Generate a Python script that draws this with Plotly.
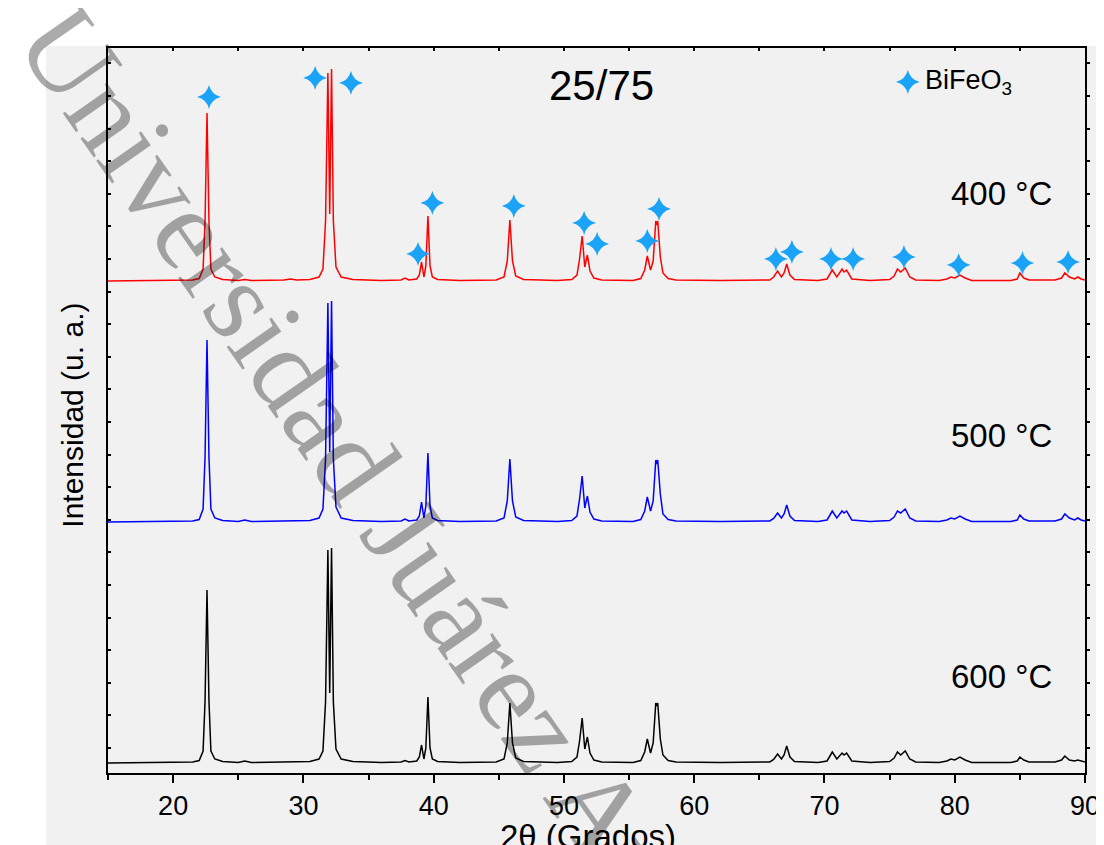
import plotly.graph_objects as go

# 2-theta sample positions (degrees)
two_theta = [15.0, 20.0, 21.5, 22.0, 22.3, 22.45, 22.6, 22.75, 22.9, 23.2, 23.8, 25.0, 25.5, 26.0,
             28.5, 29.0, 29.5, 30.5, 31.2, 31.5, 31.7, 31.88, 32.02, 32.16, 32.3, 32.5, 32.9, 33.8,
             36.0, 37.5, 37.8, 38.1, 38.7, 38.9, 39.07, 39.25, 39.4, 39.56, 39.72, 39.9, 40.3, 42.0,
             44.8, 45.4, 45.65, 45.85, 46.05, 46.3, 46.9, 49.5, 50.6, 51.0, 51.2, 51.4, 51.6, 51.8,
             52.0, 52.3, 52.9, 55.3, 55.9, 56.2, 56.4, 56.65, 56.85, 57.05, 57.13, 57.2, 57.4, 57.6,
             58.0, 58.6, 62.0, 65.8, 66.1, 66.4, 66.7, 66.9, 67.1, 67.35, 67.7, 69.5, 70.2, 70.6,
             70.95, 71.35, 71.5, 71.7, 72.1, 73.5, 75.0, 75.35, 75.6, 75.85, 76.2, 76.55, 77.0, 78.8,
             79.4, 79.7, 80.0, 80.4, 80.8, 81.3, 84.3, 84.8, 85.0, 85.3, 85.7, 87.7, 88.2, 88.45,
             88.8, 89.2, 89.45, 89.7, 90.0]

# intensities (a.u.) above each pattern's own baseline
int_400 = [0, 0.5, 1, 2.5, 12, 60, 168, 60, 12, 4, 1.5, 0.5, 1.5, 0.5,
           1, 2, 1, 1.5, 4, 12, 60, 208, 67, 212, 60, 14, 4, 1.5,
           0.5, 1, 3, 1, 2, 6, 19, 4, 15, 65, 15, 4, 1.5, 0.5,
           1, 4, 20, 61, 20, 5, 1.5, 0.5, 1.5, 6, 22, 45, 14, 26,
           10, 3, 1, 0.5, 2.5, 11, 25, 11, 20, 60, 56, 60, 24, 8,
           2.5, 1, 0.5, 1, 4, 10, 4, 8, 17, 6, 1.5, 0.5, 2, 11,
           4, 12, 9, 11, 2, 0.5, 1.5, 5, 12, 9, 13, 4, 1, 0.5,
           2, 4, 3, 6, 3, 0.5, 0.5, 2, 8, 3, 1, 1, 3, 8,
           4, 2, 4, 2, 1]

int_500 = [0, 0.5, 1, 2.5, 13, 65, 182, 65, 13, 4, 1.5, 0.5, 2, 0.5,
           1, 1.5, 1, 1.5, 4, 13, 63, 219, 70, 221, 63, 15, 4, 1.5,
           0.5, 1, 3, 1, 2, 6, 20, 4, 16, 69, 16, 4, 1.5, 0.5,
           1, 4, 21, 63, 21, 5, 1.5, 0.5, 1.5, 6, 23, 46, 14, 26,
           10, 3, 1, 0.5, 2.5, 11, 25, 11, 21, 62, 58, 62, 28, 8,
           2.5, 1, 0.5, 1, 3.5, 9, 4, 8, 17, 6, 1.5, 0.5, 2, 11,
           4, 11, 9, 11, 2, 0.5, 1.5, 5, 11, 9, 13, 4, 1, 0.5,
           2, 4, 3, 6, 3, 0.5, 0.5, 2, 7, 3, 1, 1, 3, 8,
           4, 2, 4, 2, 1]

int_600 = [0, 0.5, 1, 2.5, 12, 62, 173, 62, 12, 4, 1.5, 0.5, 2, 0.5,
           1, 1.5, 1, 1.5, 4, 12, 61, 213, 70, 215, 61, 14, 4, 1.5,
           0.5, 1, 2.5, 1, 2, 6, 18, 4, 15, 66, 15, 4, 1.5, 0.5,
           1, 4, 20, 60, 20, 5, 1.5, 0.5, 1.5, 6, 22, 45, 14, 26,
           10, 3, 1, 0.5, 2.5, 11, 24, 10, 20, 60, 57, 60, 24, 8,
           2.5, 1, 0.5, 1, 3.5, 9, 4, 8, 17, 6, 1.5, 0.5, 2, 11,
           4, 10, 8, 10, 2, 0.5, 1.5, 5, 11, 8, 12, 4, 1, 0.5,
           2, 4, 3, 6, 3, 0.5, 0.5, 2, 6, 3, 1, 1, 3, 7,
           3, 2, 3, 2, 1]

series_names = ["400 °C", "500 °C", "600 °C"]
series_offsets = [492, 251, 10]
series_colors = ["#ff0000", "#0000ff", "#000000"]
series_values = [int_400, int_500, int_600]

# BiFeO3 reflection markers
star_x = [22.75, 30.9, 33.65, 38.8, 39.9, 46.15, 51.55, 52.55, 56.4, 57.3,
          66.27, 67.5, 70.5, 72.2, 76.1, 80.3, 85.2, 88.7]
star_y = [676, 695, 690, 519, 570, 567, 550, 529, 532, 564,
          514, 521, 514, 514, 516, 508, 510, 511]

x_ticks = [20, 30, 40, 50, 60, 70, 80, 90]

FONT = "Arial, Liberation Sans, sans-serif"
STAR = "#1AA3F7"

fig = go.Figure()
for name, off, col, vals in zip(series_names, series_offsets, series_colors, series_values):
    fig.add_trace(go.Scatter(x=two_theta, y=[v + off for v in vals], mode="lines",
                             line=dict(color=col, width=1.5), name=name, showlegend=False))

fig.add_trace(go.Scatter(x=star_x, y=star_y, mode="markers",
                         marker=dict(symbol="star-diamond", size=17, color=STAR, line=dict(width=0)),
                         showlegend=False))
# legend key star
fig.add_trace(go.Scatter(x=[76.4], y=[691], mode="markers",
                         marker=dict(symbol="star-diamond", size=17, color=STAR, line=dict(width=0)),
                         showlegend=False))
# helper trace for mirrored axes
fig.add_trace(go.Scatter(x=[15], y=[0], xaxis="x2", yaxis="y2", mode="markers",
                         marker=dict(opacity=0), showlegend=False, hoverinfo="skip"))

annotations = [
    dict(text="25/75", x=52.9, y=688, xref="x", yref="y", showarrow=False,
         xanchor="center", yanchor="middle", font=dict(family=FONT, size=42, color="black")),
    dict(text="BiFeO<sub>3</sub>", x=77.6, y=691, xref="x", yref="y", showarrow=False,
         xanchor="left", yanchor="middle", font=dict(family=FONT, size=27, color="black")),
    dict(text="400 °C", x=87.6, y=580, xref="x", yref="y", showarrow=False, xanchor="right",
         yanchor="middle", font=dict(family=FONT, size=33, color="black")),
    dict(text="500 °C", x=87.6, y=338, xref="x", yref="y", showarrow=False, xanchor="right",
         yanchor="middle", font=dict(family=FONT, size=33, color="black")),
    dict(text="600 °C", x=87.6, y=97, xref="x", yref="y", showarrow=False, xanchor="right",
         yanchor="middle", font=dict(family=FONT, size=33, color="black")),
    dict(text="Intensidad (u. a.)", x=-0.036, y=0.494, xref="paper", yref="paper", showarrow=False,
         xanchor="center", yanchor="middle", textangle=-90,
         font=dict(family=FONT, size=30, color="black")),
    dict(text="2θ (Grados)", x=0.491, y=-0.087, xref="paper", yref="paper", showarrow=False,
         xanchor="center", yanchor="middle", font=dict(family=FONT, size=33, color="black")),
    dict(text="Universidad Juárez Autónoma de Tabasco", x=0.512, y=-0.07, xref="paper", yref="paper",
         showarrow=False, textangle=55, xanchor="center", yanchor="middle",
         font=dict(family="Liberation Serif, Times New Roman, serif", size=117, color="rgba(0,0,0,0.33)")),
]

axis_common = dict(automargin=False, showgrid=False, zeroline=False, showline=True,
                   linewidth=2, linecolor="black", tickcolor="black")

# the page body adds an 8 px offset, so the figure is 8 px smaller and margins shifted
fig.update_layout(
    width=1096, height=837,
    margin=dict(l=100, r=19, t=40, b=72, pad=0, autoexpand=False),
    paper_bgcolor="white", plot_bgcolor="#f1f1f1",
    showlegend=False,
    annotations=annotations,
    shapes=[dict(type="rect", xref="paper", yref="paper", x0=-0.0635, x1=1.03, y0=-0.11, y1=1.0028,
                 fillcolor="#f1f1f1", line=dict(width=0), layer="below")],
    xaxis=dict(range=[15, 90], tickvals=x_ticks, ticks="outside", ticklen=8, tickwidth=2,
               tickfont=dict(family=FONT, size=27, color="black"),
               minor=dict(ticks="outside", ticklen=5, tickwidth=2, tickcolor="black", dtick=5, tick0=0,
                          showgrid=False), **axis_common),
    xaxis2=dict(range=[15, 90], overlaying="x", side="top", anchor="y", ticks="inside", ticklen=3,
                tickwidth=1.5, dtick=5, tick0=0, showticklabels=False, **axis_common),
    yaxis=dict(range=[0, 725], ticks="inside", ticklen=3, tickwidth=1.5,
               tick0=25, dtick=32.6, showticklabels=False, **axis_common),
    yaxis2=dict(range=[0, 725], overlaying="y", side="right", anchor="x", ticks="outside", ticklen=3,
                tickwidth=1.5, tick0=25, dtick=32.6, showticklabels=False, **axis_common),
)

fig.write_html("out.html")
